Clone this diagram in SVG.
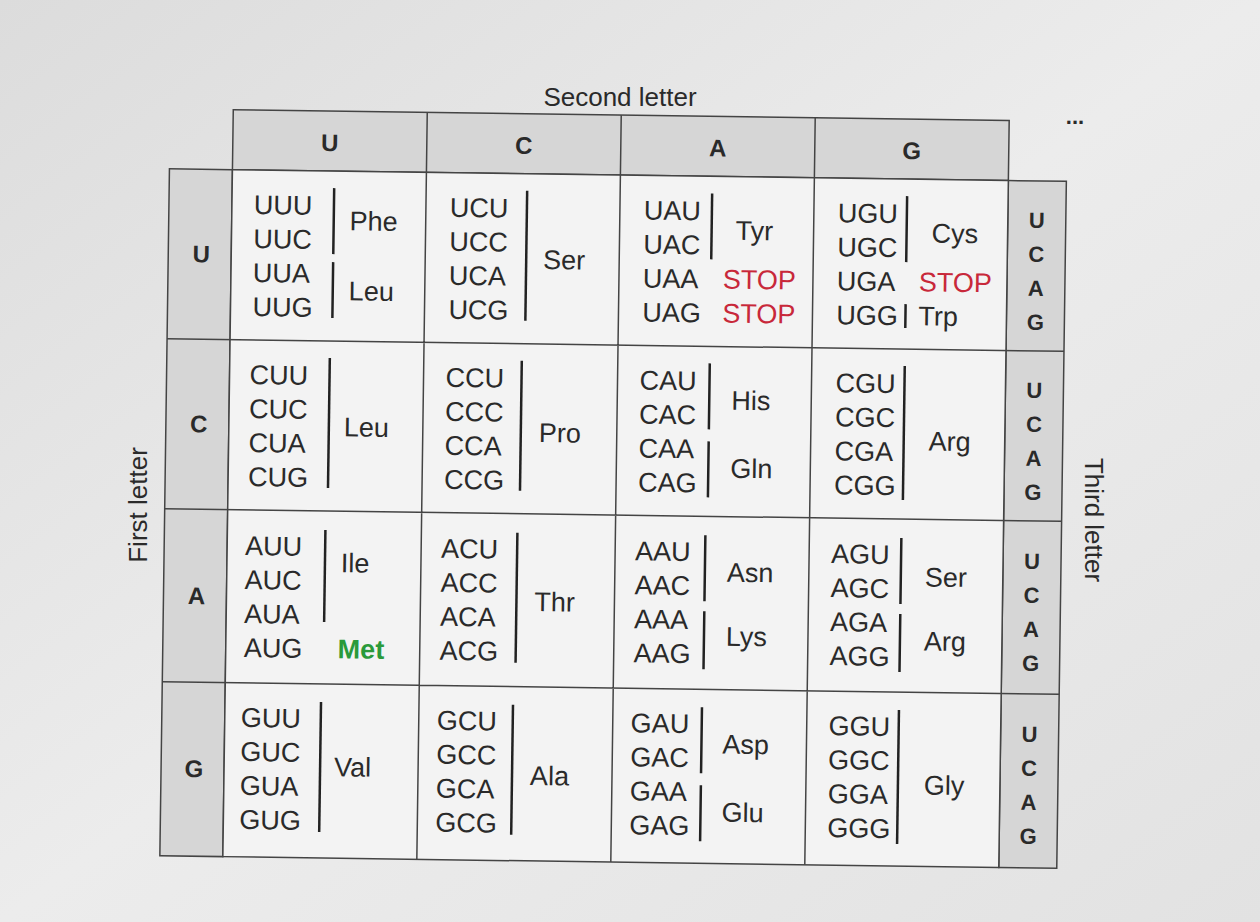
<svg xmlns="http://www.w3.org/2000/svg" width="1260" height="922" viewBox="0 0 1260 922">
<defs>
<linearGradient id="bg" x1="0" y1="0" x2="1" y2="1"><stop offset="0" stop-color="#dcdcdc"/><stop offset="0.5" stop-color="#ececec"/><stop offset="1" stop-color="#e2e2e2"/></linearGradient>
</defs>
<style>
text{font-family:"Liberation Sans",Arial,sans-serif;fill:#2a2a2a}
.c{font-size:27px}
.h{font-size:24px;font-weight:bold;text-anchor:middle}
.t{font-size:22px;font-weight:bold;text-anchor:middle}
.s{fill:#c8283a}
.m{fill:#2a9a3a;font-weight:bold}
.g{fill:#d6d6d6;stroke:#444;stroke-width:1.5}
.w{fill:#f3f3f3;stroke:#444;stroke-width:1.5}
.b{stroke:#222;stroke-width:2.5}
</style>
<rect width="1260" height="922" fill="url(#bg)"/>
<text x="620" y="106" font-size="26" text-anchor="middle">Second letter</text>
<text x="1075" y="124" font-size="22" font-weight="bold" text-anchor="middle">...</text>
<text transform="translate(147,505) rotate(-90)" font-size="26" text-anchor="middle">First letter</text>
<text transform="translate(1085,520) rotate(90)" font-size="26" text-anchor="middle">Third letter</text>
<g transform="rotate(0.8 610 490)">
<g id="grid">
<rect class="g" x="228" y="115" width="776" height="60"/>
<rect class="g" x="165" y="175" width="63" height="687"/>
<rect class="g" x="1004" y="175" width="58" height="687"/>
<rect class="w" x="228" y="175" width="776" height="687"/>
<path d="M422 115V862M616 115V862M810 115V862M165 345H1062M165 515H1062M165 688H1062" stroke="#444" stroke-width="1.5" fill="none"/>
</g>
<g id="headers">
<text class="h" x="325" y="155">U</text><text class="h" x="519" y="155">C</text><text class="h" x="713" y="155">A</text><text class="h" x="907" y="155">G</text>
<text class="h" x="198" y="268">U</text><text class="h" x="198" y="438">C</text><text class="h" x="198" y="610">A</text><text class="h" x="198" y="783">G</text>
</g>
<g id="third">
<text class="t" x="1033" y="222">U</text><text class="t" x="1033" y="256">C</text><text class="t" x="1033" y="290">A</text><text class="t" x="1033" y="324">G</text>
<text class="t" x="1033" y="392">U</text><text class="t" x="1033" y="426">C</text><text class="t" x="1033" y="460">A</text><text class="t" x="1033" y="494">G</text>
<text class="t" x="1033" y="563">U</text><text class="t" x="1033" y="597">C</text><text class="t" x="1033" y="631">A</text><text class="t" x="1033" y="665">G</text>
<text class="t" x="1033" y="736">U</text><text class="t" x="1033" y="770">C</text><text class="t" x="1033" y="804">A</text><text class="t" x="1033" y="838">G</text>
</g>
<g id="rowU">
<text class="c" x="250" y="219">UUU</text><text class="c" x="250" y="253">UUC</text><text class="c" x="250" y="287">UUA</text><text class="c" x="250" y="321">UUG</text>
<path class="b" d="M330 192V258M330 266V322"/><text class="c" x="346" y="234">Phe</text><text class="c" x="346" y="304">Leu</text>
<text class="c" x="446" y="219">UCU</text><text class="c" x="446" y="253">UCC</text><text class="c" x="446" y="287">UCA</text><text class="c" x="446" y="321">UCG</text>
<path class="b" d="M523 192V322"/><text class="c" x="540" y="270">Ser</text>
<text class="c" x="640" y="219">UAU</text><text class="c" x="640" y="253">UAC</text><text class="c" x="640" y="287">UAA</text><text class="c" x="640" y="321">UAG</text>
<path class="b" d="M708 192V258"/><text class="c" x="732" y="238">Tyr</text>
<text class="c s" x="720" y="287">STOP</text><text class="c s" x="720" y="321">STOP</text>
<text class="c" x="834" y="219">UGU</text><text class="c" x="834" y="253">UGC</text><text class="c" x="834" y="287">UGA</text><text class="c" x="834" y="321">UGG</text>
<path class="b" d="M903 192V258M903 300V324"/><text class="c" x="928" y="238">Cys</text>
<text class="c s" x="916" y="287">STOP</text><text class="c" x="916" y="321">Trp</text>
</g>
<g id="rowC">
<text class="c" x="248" y="389">CUU</text><text class="c" x="248" y="423">CUC</text><text class="c" x="248" y="457">CUA</text><text class="c" x="248" y="491">CUG</text>
<path class="b" d="M328 362V492"/><text class="c" x="343" y="440">Leu</text>
<text class="c" x="444" y="389">CCU</text><text class="c" x="444" y="423">CCC</text><text class="c" x="444" y="457">CCA</text><text class="c" x="444" y="491">CCG</text>
<path class="b" d="M520 362V492"/><text class="c" x="538" y="443">Pro</text>
<text class="c" x="638" y="389">CAU</text><text class="c" x="638" y="423">CAC</text><text class="c" x="638" y="457">CAA</text><text class="c" x="638" y="491">CAG</text>
<path class="b" d="M708 362V428M708 440V496"/><text class="c" x="730" y="408">His</text><text class="c" x="730" y="476">Gln</text>
<text class="c" x="834" y="389">CGU</text><text class="c" x="834" y="423">CGC</text><text class="c" x="834" y="457">CGA</text><text class="c" x="834" y="491">CGG</text>
<path class="b" d="M903 362V496"/><text class="c" x="928" y="446">Arg</text>
</g>
<g id="rowA">
<text class="c" x="246" y="560">AUU</text><text class="c" x="246" y="594">AUC</text><text class="c" x="246" y="628">AUA</text><text class="c" x="246" y="662">AUG</text>
<path class="b" d="M326 534V626"/><text class="c" x="342" y="576">Ile</text><text class="c m" x="340" y="662">Met</text>
<text class="c" x="442" y="560">ACU</text><text class="c" x="442" y="594">ACC</text><text class="c" x="442" y="628">ACA</text><text class="c" x="442" y="662">ACG</text>
<path class="b" d="M518 534V664"/><text class="c" x="536" y="612">Thr</text>
<text class="c" x="636" y="560">AAU</text><text class="c" x="636" y="594">AAC</text><text class="c" x="636" y="628">AAA</text><text class="c" x="636" y="662">AAG</text>
<path class="b" d="M706 534V600M706 610V668"/><text class="c" x="728" y="580">Asn</text><text class="c" x="728" y="644">Lys</text>
<text class="c" x="832" y="560">AGU</text><text class="c" x="832" y="594">AGC</text><text class="c" x="832" y="628">AGA</text><text class="c" x="832" y="662">AGG</text>
<path class="b" d="M902 534V600M902 610V668"/><text class="c" x="926" y="582">Ser</text><text class="c" x="926" y="646">Arg</text>
</g>
<g id="rowG">
<text class="c" x="244" y="732">GUU</text><text class="c" x="244" y="766">GUC</text><text class="c" x="244" y="800">GUA</text><text class="c" x="244" y="834">GUG</text>
<path class="b" d="M324 706V836"/><text class="c" x="338" y="780">Val</text>
<text class="c" x="440" y="732">GCU</text><text class="c" x="440" y="766">GCC</text><text class="c" x="440" y="800">GCA</text><text class="c" x="440" y="834">GCG</text>
<path class="b" d="M516 706V836"/><text class="c" x="534" y="786">Ala</text>
<text class="c" x="634" y="732">GAU</text><text class="c" x="634" y="766">GAC</text><text class="c" x="634" y="800">GAA</text><text class="c" x="634" y="834">GAG</text>
<path class="b" d="M705 706V772M705 784V840"/><text class="c" x="726" y="752">Asp</text><text class="c" x="726" y="820">Glu</text>
<text class="c" x="832" y="732">GGU</text><text class="c" x="832" y="766">GGC</text><text class="c" x="832" y="800">GGA</text><text class="c" x="832" y="834">GGG</text>
<path class="b" d="M902 706V840"/><text class="c" x="928" y="790">Gly</text>
</g>
</g>
</svg>
